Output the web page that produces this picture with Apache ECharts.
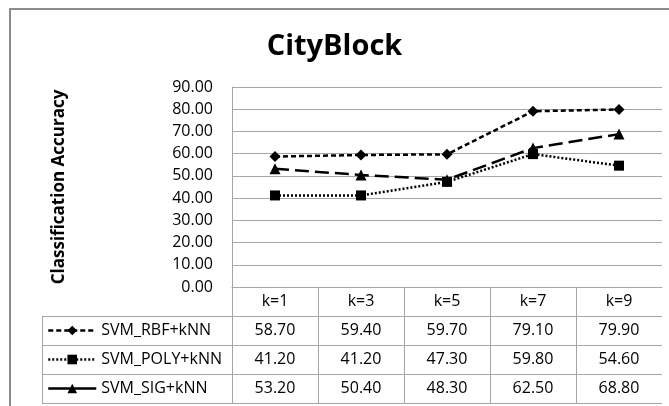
<!DOCTYPE html>
<html>
<head>
<meta charset="utf-8">
<script src="https://cdn.jsdelivr.net/npm/echarts@6/dist/echarts.min.js"></script>
<style>
html,body{margin:0;padding:0;background:#fff;}
#c{width:669px;height:406px;}
</style>
</head>
<body>
<div id="c"></div>
<script>
const titleText = 'CityBlock';
const yAxisName = 'Classification Accuracy';
const categories = ['k=1', 'k=3', 'k=5', 'k=7', 'k=9'];
const seriesNames = ['SVM_RBF+kNN', 'SVM_POLY+kNN', 'SVM_SIG+kNN'];
const rbfValues = [58.70, 59.40, 59.70, 79.10, 79.90];
const polyValues = [41.20, 41.20, 47.30, 59.80, 54.60];
const sigValues = [53.20, 50.40, 48.30, 62.50, 68.80];
const yMin = 0, yMax = 90, yStep = 10;

const FONT = "'Open Sans', 'Noto Sans', sans-serif";
const ROW_H = 29;
const GRID_TOP = 87, GRID_BOTTOM = 119, H = 406;
const AXIS_Y = H - GRID_BOTTOM;
const GRID_COLOR = '#a6a6a6';
const allValues = [rbfValues, polyValues, sigValues];
const legendLineTypes = [[5, 3], [2, 2], 'solid'];

const chart = echarts.init(document.getElementById('c'), null, {renderer: 'canvas'});

const LEG_H = 20;
const legends = seriesNames.map((n, i) => ({
  orient: 'horizontal',
  left: 47,
  top: AXIS_Y + ROW_H * (i + 1.5) - LEG_H / 2,
  padding: 0,
  itemWidth: 48,
  itemHeight: 12,
  selectedMode: false,
  textStyle: {fontFamily: FONT, fontSize: 16, color: '#000', lineHeight: LEG_H, height: LEG_H},
  data: [{name: n, lineStyle: {type: legendLineTypes[i], width: 2.5, color: '#000'}}]
}));

const option = {
  animation: false,
  backgroundColor: '#fff',
  textStyle: {fontFamily: FONT},
  title: {
    text: titleText,
    left: 'center',
    top: 27,
    padding: [5, 5, 5, 25],
    textStyle: {fontFamily: FONT, fontWeight: 'bold', fontSize: 29, color: '#000'}
  },
  grid: {left: 232, right: 7, top: GRID_TOP, bottom: GRID_BOTTOM, containLabel: false},
  legend: legends,
  xAxis: {
    type: 'category',
    data: categories,
    boundaryGap: true,
    axisTick: {show: false},
    axisLine: {show: true, lineStyle: {color: GRID_COLOR, width: 1}},
    axisLabel: {
      margin: 0,
      interval: 0,
      fontFamily: FONT,
      fontSize: 16,
      color: '#000',
      lineHeight: ROW_H,
      formatter: function (v, i) {
        return [v].concat(allValues.map(a => a[i].toFixed(2))).join('\n');
      }
    }
  },
  yAxis: {
    type: 'value',
    min: yMin, max: yMax, interval: yStep,
    name: yAxisName,
    nameLocation: 'middle',
    nameGap: 164,
    nameTextStyle: {fontFamily: FONT, fontWeight: 'bold', fontSize: 17, color: '#000'},
    axisLine: {show: true, lineStyle: {color: GRID_COLOR, width: 1}},
    axisTick: {show: false},
    splitLine: {show: true, lineStyle: {color: GRID_COLOR, width: 1}},
    axisLabel: {
      margin: 19,
      fontFamily: FONT,
      fontSize: 16,
      color: '#000',
      formatter: v => v.toFixed(2)
    }
  },
  series: [
    {
      name: seriesNames[0], type: 'line', data: rbfValues,
      symbol: 'diamond', symbolSize: 11,
      lineStyle: {color: '#000', width: 2.5, type: [5, 3]},
      itemStyle: {color: '#000'}
    },
    {
      name: seriesNames[1], type: 'line', data: polyValues,
      symbol: 'rect', symbolSize: 10,
      lineStyle: {color: '#000', width: 2.5, type: [2, 2]},
      itemStyle: {color: '#000'}
    },
    {
      name: seriesNames[2], type: 'line', data: sigValues,
      symbol: 'triangle', symbolSize: 11,
      lineStyle: {color: '#000', width: 2.5, type: [14, 6]},
      itemStyle: {color: '#000'}
    }
  ]
};
chart.setOption(option);

// Data table lines, positioned from the chart's own scales
function drawTable() {
  const centers = categories.map((c, i) => chart.convertToPixel({xAxisIndex: 0}, i));
  const band = centers.length > 1 ? centers[1] - centers[0] : 80;
  const xRight = centers[centers.length - 1] + band / 2;
  const yBase = chart.convertToPixel({yAxisIndex: 0}, yMin);
  const legendLeft = 42;
  const nRows = allValues.length + 1;
  const yBottom = yBase + ROW_H * nRows;
  const lineStyle = {stroke: GRID_COLOR, lineWidth: 1};
  const els = [];
  const r = v => Math.round(v) + 0.5;
  for (let k = 1; k <= nRows; k++) {
    const y = r(yBase + ROW_H * k);
    els.push({type: 'line', shape: {x1: legendLeft, y1: y, x2: xRight, y2: y}, style: lineStyle, silent: true});
  }
  for (let i = 0; i < centers.length; i++) {
    const x = r(centers[i] - band / 2);
    els.push({type: 'line', shape: {x1: x, y1: yBase, x2: x, y2: r(yBottom)}, style: lineStyle, silent: true});
  }
  els.push({type: 'line', shape: {x1: r(legendLeft), y1: r(yBase + ROW_H), x2: r(legendLeft), y2: r(yBottom)}, style: lineStyle, silent: true});
  els.push({type: 'rect', shape: {x: 10, y: 9, width: 800, height: 600}, style: {fill: null, stroke: '#8c8c8c', lineWidth: 2}, silent: true, z: 100});
  chart.setOption({graphic: {elements: els}});
}
drawTable();
</script>
</body>
</html>
